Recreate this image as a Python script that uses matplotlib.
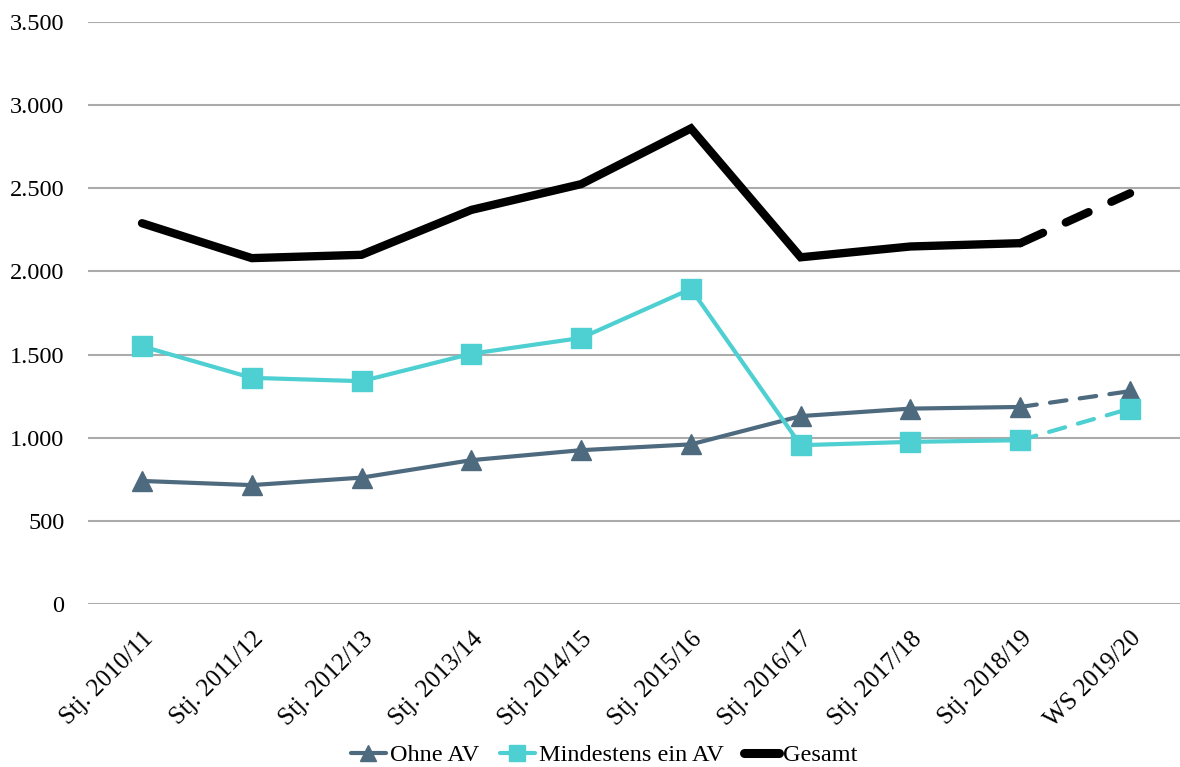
import matplotlib
matplotlib.use("Agg")
import matplotlib.pyplot as plt
from matplotlib.lines import Line2D
from matplotlib.ticker import FuncFormatter

categories = ["Stj. 2010/11", "Stj. 2011/12", "Stj. 2012/13", "Stj. 2013/14", "Stj. 2014/15",
              "Stj. 2015/16", "Stj. 2016/17", "Stj. 2017/18", "Stj. 2018/19", "WS 2019/20"]
ohne_av = [740, 715, 760, 865, 925, 960, 1130, 1175, 1185, 1280]
mind_av = [1550, 1360, 1340, 1505, 1600, 1895, 955, 975, 985, 1175]
gesamt = [2290, 2080, 2100, 2370, 2525, 2860, 2085, 2150, 2170, 2470]
y_ticks = [0, 500, 1000, 1500, 2000, 2500, 3000, 3500]

plt.rcParams['font.family'] = ['Liberation Serif', 'DejaVu Serif']

c_ohne = "#4E6A7E"
c_mind = "#4ECFD1"
c_ges = "#000000"

fig = plt.figure(figsize=(11.8, 7.67), dpi=100)
ax = fig.add_axes([88/1180, (767-604)/767, (1180-88)/1180, (604-22)/767])

x = list(range(len(categories)))
n = len(categories) - 1  # last point is partial -> dashed

series = [
    (ohne_av, c_ohne, 3, "^", 15, "Ohne AV", (0, (4, 3.2))),
    (mind_av, c_mind, 3, "s", 14, "Mindestens ein AV", (0, (4, 3.2))),
    (gesamt, c_ges, 6, None, 0, "Gesamt", (0, (3, 3))),
]
handles = []
for vals, col, lw, mk, ms, lab, ls in series:
    ax.plot(x[:n], vals[:n], color=col, lw=lw, marker=mk, ms=ms, zorder=3,
            solid_capstyle='round', solid_joinstyle='miter')
    ax.plot(x[n-1:], vals[n-1:], color=col, lw=lw, linestyle=ls, zorder=2,
            dash_capstyle='round')
    if mk:
        ax.plot(x[n:], vals[n:], color=col, lw=0, marker=mk, ms=ms, zorder=3)
    handles.append(Line2D([0], [0], color=col, lw=lw if mk else 6.5, marker=mk, ms=ms * 0.8,
                          label=lab, solid_capstyle='round'))

ax.set_xlim(-0.492, 9.455)
ax.set_ylim(0, 3500)
ax.set_yticks(y_ticks)
ax.yaxis.set_major_formatter(FuncFormatter(lambda v, p: f"{int(v):,}".replace(",", ".")))
ax.set_xticks(x)
ax.set_xticklabels(categories, rotation=45, ha='right', rotation_mode='anchor')
ax.tick_params(axis='both', length=0, colors='#000000')
ax.tick_params(axis='y', pad=17, labelsize=17.5)
ax.tick_params(axis='x', pad=17, labelsize=18)
ax.grid(axis='y', color='#ABABAB', lw=1.5)
ax.set_axisbelow(True)
for s in ax.spines.values():
    s.set_visible(False)

fig.legend(handles=handles, loc='center', bbox_to_anchor=(0.512, 12/767), ncol=3,
           frameon=False, fontsize=17.5, handlelength=1.45, handletextpad=0.15,
           columnspacing=0.85, borderaxespad=0.0, borderpad=0.0)

fig.savefig("out.png", dpi=100)
